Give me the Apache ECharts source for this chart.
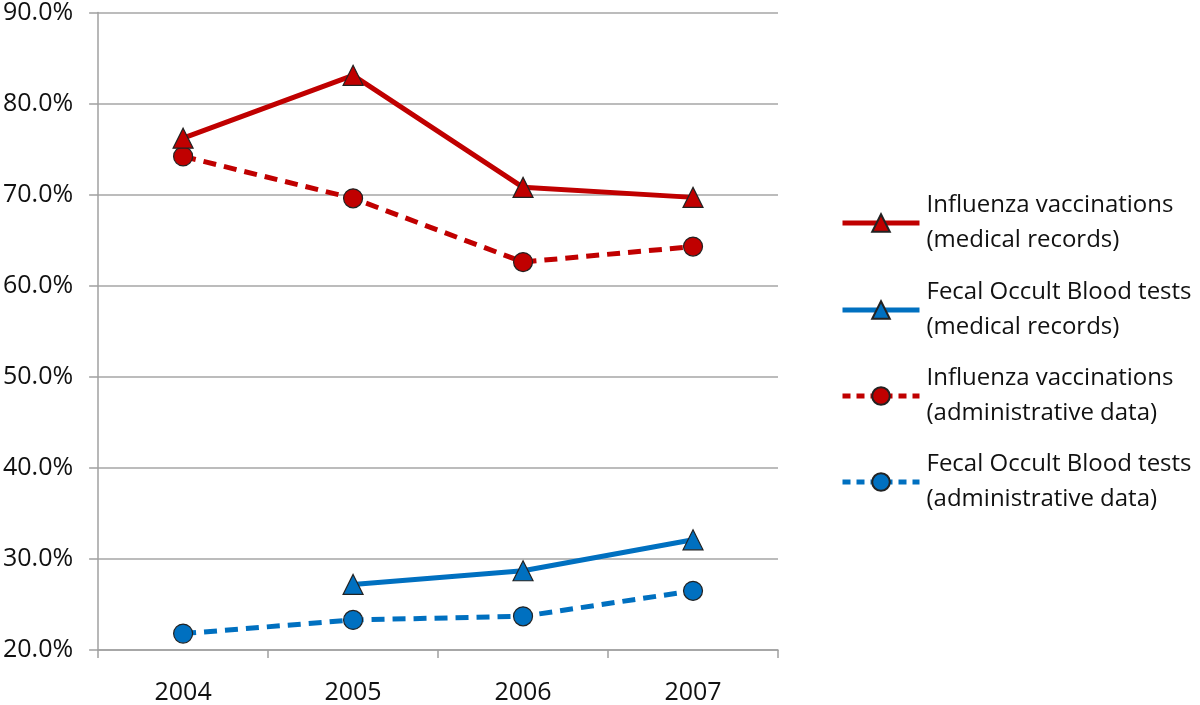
<!DOCTYPE html>
<html>
<head>
<meta charset="utf-8">
<script src="https://cdn.jsdelivr.net/npm/echarts@6/dist/echarts.min.js"></script>
<style>html,body{margin:0;padding:0;background:#fff}#c{width:1200px;height:705px}</style>
</head>
<body>
<div id="c"></div>
<script>
var categories = ['2004', '2005', '2006', '2007'];
var fluMedical = [76.2, 83.1, 70.8, 69.7];
var fobtMedical = [null, 27.2, 28.7, 32.1];
var fluAdmin = [74.2, 69.6, 62.6, 64.3];
var fobtAdmin = [21.8, 23.3, 23.7, 26.5];
var seriesNames = [
  'Influenza vaccinations\n(medical records)',
  'Fecal Occult Blood tests\n(medical records)',
  'Influenza vaccinations\n(administrative data)',
  'Fecal Occult Blood tests\n(administrative data)'
];
var yMin = 20, yMax = 90, yStep = 10;

var RED = '#C00000', BLUE = '#0070C0';
var FONT = 'Open Sans';
var chart = echarts.init(document.getElementById('c'), null, {renderer: 'canvas'});

function mk(name, data, color, dashed, symbol, size) {
  return {
    name: name, type: 'line', data: data,
    symbol: symbol, symbolSize: size,
    connectNulls: false,
    lineStyle: {color: color, width: 5, type: dashed ? [13, 8] : 'solid'},
    itemStyle: {color: color, borderColor: '#222', borderWidth: 1.2},
    z: dashed ? 2 : 3
  };
}

var LH = 35;
function legendAt(name, dashed, yc) {
  return {
    data: [name], left: 835, top: yc - 52.5 - 5, orient: 'vertical',
    itemWidth: 77, itemHeight: 22, itemGap: 0,
    lineStyle: {width: 5, type: dashed ? [8, 6] : 'solid'},
    textStyle: {fontFamily: FONT, fontSize: 24, color: '#111', lineHeight: LH, padding: [LH, 0, 0, 2]}
  };
}

chart.setOption({
  animation: false,
  backgroundColor: '#fff',
  grid: {left: 97, right: 422, top: 12, bottom: 55, containLabel: false},
  legend: [
    legendAt(seriesNames[0], false, 223),
    legendAt(seriesNames[1], false, 310),
    legendAt(seriesNames[2], true, 396),
    legendAt(seriesNames[3], true, 482)
  ],
  xAxis: {
    type: 'category', data: categories, boundaryGap: true,
    axisLine: {lineStyle: {color: '#a0a0a0', width: 1.5}},
    axisTick: {show: true, length: 8, alignWithLabel: false, lineStyle: {color: '#a0a0a0', width: 1.5}},
    axisLabel: {fontFamily: FONT, fontSize: 25, color: '#111', margin: 30}
  },
  yAxis: {
    type: 'value', min: yMin, max: yMax, interval: yStep,
    axisLine: {show: true, lineStyle: {color: '#a0a0a0', width: 1.5}},
    axisTick: {show: true, length: 9, lineStyle: {color: '#a0a0a0', width: 1.5}},
    splitLine: {lineStyle: {color: '#a6a6a6', width: 1.5}},
    axisLabel: {fontFamily: FONT, fontSize: 25, color: '#111', margin: 25,
      formatter: function (v) { return v.toFixed(1) + '%'; }}
  },
  series: [
    mk(seriesNames[0], fluMedical, RED, false, 'triangle', 20),
    mk(seriesNames[1], fobtMedical, BLUE, false, 'triangle', 20),
    mk(seriesNames[2], fluAdmin, RED, true, 'circle', 19),
    mk(seriesNames[3], fobtAdmin, BLUE, true, 'circle', 19)
  ]
});
</script>
</body>
</html>
